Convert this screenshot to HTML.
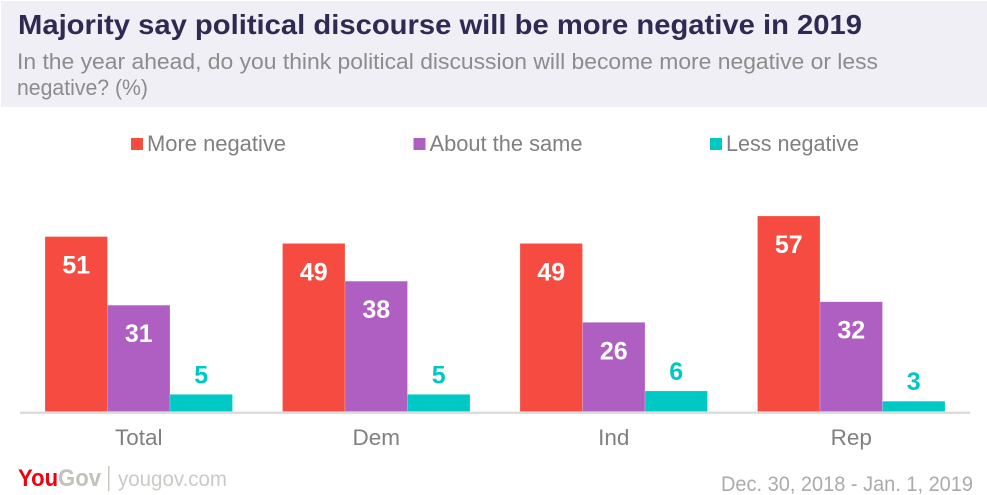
<!DOCTYPE html>
<html lang="en">
<head>
<meta charset="utf-8">
<title>Majority say political discourse will be more negative in 2019</title>
<style>
html,body{margin:0;padding:0;background:#fff;width:987px;height:495px;overflow:hidden}
svg{display:block;font-family:"Liberation Sans",sans-serif}
</style>
</head>
<body>
<svg id="chart" width="987" height="495" viewBox="0 0 987 495" xmlns="http://www.w3.org/2000/svg">
  <rect x="1" y="1" width="986" height="106" fill="#f0eff6"/>
  <text x="18" y="34" font-size="28" font-weight="700" fill="#2f2a52" textLength="844" lengthAdjust="spacingAndGlyphs">Majority say political discourse will be more negative in 2019</text>
  <text x="17" y="69" font-size="22" fill="#8c8c8c" textLength="861" lengthAdjust="spacingAndGlyphs">In the year ahead, do you think political discussion will become more negative or less</text>
  <text x="17" y="95" font-size="22" fill="#8c8c8c" textLength="131" lengthAdjust="spacingAndGlyphs">negative? (%)</text>

  <g id="legend"></g>
  <g id="bars"></g>
  <rect x="20" y="411.5" width="950" height="2.5" fill="#dcdcdc"/>
  <g id="labels"></g>
  <g id="categories"></g>

  <g>
    <text x="18" y="486" font-size="24" font-weight="700" textLength="83" lengthAdjust="spacingAndGlyphs"><tspan fill="#f2000f">You</tspan><tspan fill="#c2c1ba">Gov</tspan></text>
    <rect x="108" y="466" width="1.5" height="25" fill="#c9c8c2"/>
    <text x="118" y="486" font-size="21" fill="#cbcac5" textLength="109" lengthAdjust="spacingAndGlyphs">yougov.com</text>
  </g>
  <text x="721" y="491" font-size="21" fill="#ababab" textLength="252" lengthAdjust="spacingAndGlyphs">Dec. 30, 2018 - Jan. 1, 2019</text>
</svg>
<script>
const categories = ["Total", "Dem", "Ind", "Rep"];
const seriesNames = ["More negative", "About the same", "Less negative"];
const moreNegative = [51, 49, 49, 57];
const aboutTheSame = [31, 38, 26, 32];
const lessNegative = [5, 5, 6, 3];

const seriesValues = [moreNegative, aboutTheSame, lessNegative];
const colors = ["#f64b40", "#ae5fc1", "#00c9c5"];
const legendX = [131, 413.5, 710];
const legendW = [139, 153, 133];

const NS = "http://www.w3.org/2000/svg";
const baseY = 411.5, unit = 3.43;
const plotLeft = 20, band = 237.5, barW = 62.5, groupPad = 25;

function y(v) { return baseY - v * unit; }
function x(c, s) { return plotLeft + c * band + groupPad + s * barW; }
function make(tag, attrs, parent, txt) {
  const el = document.createElementNS(NS, tag);
  for (const k in attrs) el.setAttribute(k, attrs[k]);
  if (txt !== undefined) el.textContent = txt;
  parent.appendChild(el);
  return el;
}

const barsG = document.getElementById("bars");
const labelsG = document.getElementById("labels");
const catsG = document.getElementById("categories");
const legendG = document.getElementById("legend");

seriesNames.forEach(function (name, s) {
  const swatch = make("rect", {x: legendX[s], y: 138, width: 12, height: 12, fill: colors[s]}, legendG);
  
  
  const lt = make("text", {x: legendX[s] + 16, y: 151, "font-size": 22, fill: "#808080", textLength: legendW[s], lengthAdjust: "spacingAndGlyphs"}, legendG, name);
  
  

  seriesValues[s].forEach(function (v, c) {
    const bar = make("rect", {x: x(c, s), y: y(v), width: barW, height: baseY - y(v), fill: colors[s], stroke: "#fff", "stroke-opacity": 0.35, "stroke-width": 0.6}, barsG);
    
    
    const inside = v >= 10;
    const label = make("text", {
      x: x(c, s) + barW / 2,
      y: inside ? y(v) + 37 : y(v) - 11,
      "text-anchor": "middle", "font-size": 25, "font-weight": 700,
      fill: inside ? "#ffffff" : colors[s]
    }, labelsG, String(v));
    
    
  });
});

categories.forEach(function (cat, c) {
  const t = make("text", {x: plotLeft + c * band + band / 2, y: 445, "text-anchor": "middle", "font-size": 22.5, fill: "#808080"}, catsG, cat);
  
  
});
</script>
</body>
</html>
